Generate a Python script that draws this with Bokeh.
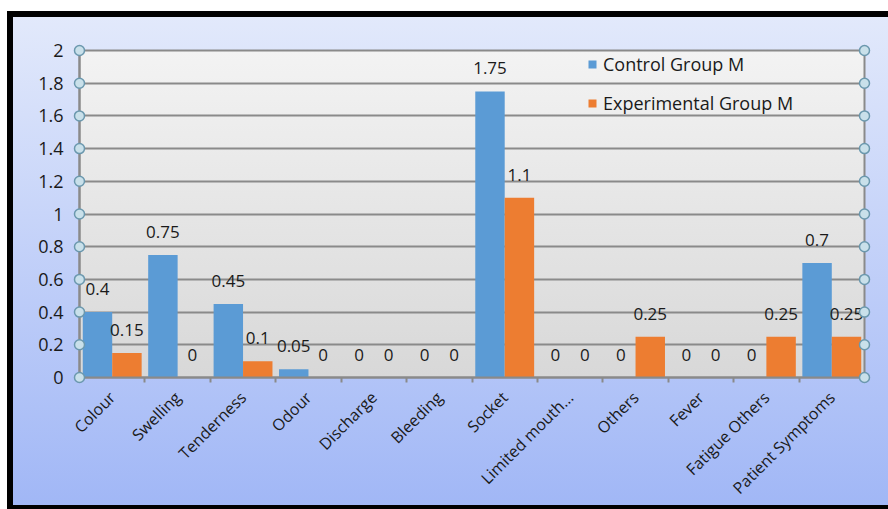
import math
from bokeh.plotting import figure
from bokeh.models import (ColumnDataSource, Range1d, FixedTicker, NumeralTickFormatter,
                          LabelSet, Legend, LegendItem)
from bokeh.core.properties import value
from bokeh.transform import dodge
from bokeh.embed import file_html
from bokeh.resources import INLINE

categories = ["Colour", "Swelling", "Tenderness", "Odour", "Discharge", "Bleeding",
              "Socket", "Limited mouth...", "Others", "Fever", "Fatigue Others",
              "Patient Symptoms"]
control = [0.4, 0.75, 0.45, 0.05, 0, 0, 1.75, 0, 0, 0, 0, 0.7]
experimental = [0.15, 0, 0.1, 0, 0, 0, 1.1, 0, 0.25, 0, 0.25, 0.25]
y_ticks = [0, 0.2, 0.4, 0.6, 0.8, 1, 1.2, 1.4, 1.6, 1.8, 2]
series_names = ["Control Group M", "Experimental Group M"]
series_colors = ["#5b9bd5", "#ed7d31"]

FONT = "Open Sans"
TXT = "#1a1a1a"
GRID = "#8a8a8a"

n = len(categories)
centers = [i + 0.5 for i in range(n)]
bounds = list(range(n + 1))

src = ColumnDataSource(dict(
    x=centers,
    control=control,
    experimental=experimental,
    control_lbl=[f"{v:g}" for v in control],
    experimental_lbl=[f"{v:g}" for v in experimental],
))

p = figure(width=888, height=509, x_range=Range1d(0, n), y_range=Range1d(0, 2),
           output_backend="svg", toolbar_location=None,
           min_border_left=79, min_border_right=24, min_border_top=50, min_border_bottom=132)

bg = ", ".join([
    "linear-gradient(#f3f3f3, #d8d8d8) 79px 50px / 785px 327px no-repeat",
    "linear-gradient(#000, #000) 7px 11px / 881px 6px no-repeat",
    "linear-gradient(#000, #000) 7px 11px / 6px 498px no-repeat",
    "linear-gradient(#000, #000) 7px 505px / 881px 4px no-repeat",
    "linear-gradient(#e2e9fb, #a1b7f6) 13px 17px / 875px 488px no-repeat",
    "#ffffff",
])
p.styles = {"background": bg}
p.background_fill_alpha = 0
p.border_fill_alpha = 0
p.outline_line_color = GRID
p.outline_line_width = 2

off = 0.225
bw = 0.45
r1 = p.vbar(x=dodge("x", -off), top="control", width=bw, source=src,
            fill_color=series_colors[0], line_color=None)
r2 = p.vbar(x=dodge("x", off), top="experimental", width=bw, source=src,
            fill_color=series_colors[1], line_color=None)

for col, sign in (("control", -1), ("experimental", 1)):
    p.add_layout(LabelSet(x=dodge("x", sign * off), y=col, text=col + "_lbl", source=src,
                          text_align="center", text_baseline="bottom", y_offset=17,
                          text_font=value(FONT), text_font_size=value("17px"),
                          text_color=TXT))

# grid / axes
p.xgrid.visible = False
p.ygrid.grid_line_color = GRID
p.ygrid.grid_line_width = 2

p.yaxis.ticker = FixedTicker(ticks=y_ticks)
p.yaxis.formatter = NumeralTickFormatter(format="0.[00]")
p.yaxis.axis_line_color = GRID
p.yaxis.axis_line_width = 2
p.yaxis.major_tick_out = 0
p.yaxis.major_tick_in = 0
p.yaxis.minor_tick_line_color = None
p.yaxis.major_label_standoff = 16
p.yaxis.major_label_text_font = FONT
p.yaxis.major_label_text_font_size = "18px"
p.yaxis.major_label_text_color = TXT

p.xaxis.ticker = FixedTicker(ticks=centers, minor_ticks=bounds)
p.xaxis.major_label_overrides = dict(zip(centers, categories))
p.xaxis.major_label_orientation = math.pi / 4
p.xaxis.axis_line_color = GRID
p.xaxis.axis_line_width = 2
p.xaxis.major_tick_out = 0
p.xaxis.major_tick_in = 0
p.xaxis.minor_tick_out = 5
p.xaxis.minor_tick_in = 0
p.xaxis.minor_tick_line_color = GRID
p.xaxis.minor_tick_line_width = 2
p.xaxis.major_label_standoff = 12
p.xaxis.major_label_text_font = FONT
p.xaxis.major_label_text_font_size = "16px"
p.xaxis.major_label_text_color = TXT

# selection handles on the plot-area edges
for xe in (0, n):
    h = p.scatter(x=[xe] * len(y_ticks), y=y_ticks, size=10, marker="circle",
                  fill_color="#c9e0ea", line_color="#6b98ae", line_width=1.5)
    h.level = "overlay"

legend = Legend(items=[LegendItem(label=series_names[0], renderers=[r1]),
                       LegendItem(label=series_names[1], renderers=[r2])],
                location=(508, 262), background_fill_alpha=0, border_line_alpha=0,
                glyph_width=10, glyph_height=10, label_height=22, spacing=15,
                padding=0, margin=0, label_standoff=6,
                label_text_font=FONT, label_text_font_size="18px", label_text_color=TXT)
p.add_layout(legend)

open("out.html", "w").write(file_html(p, INLINE))
